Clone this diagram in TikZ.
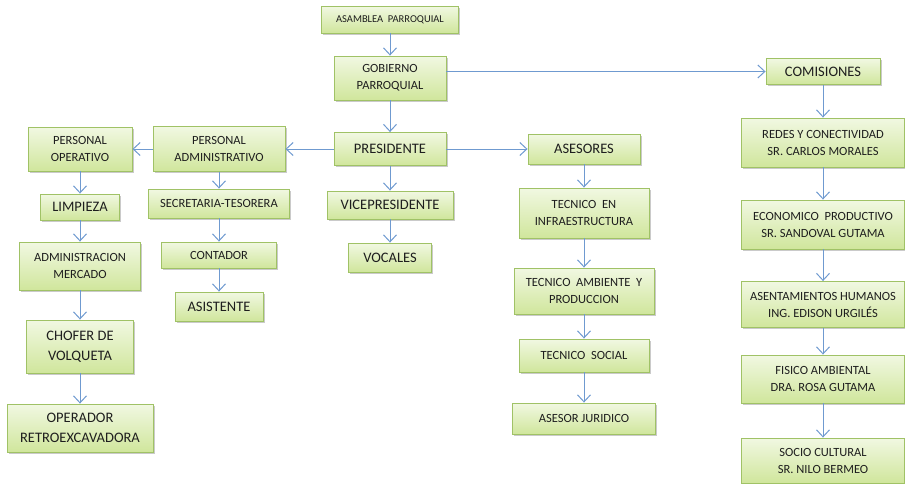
\documentclass[tikz,border=0pt]{standalone}
\usepackage{fontspec}
\setmainfont{Carlito}
\usetikzlibrary{positioning,shadows,arrows.meta}

\definecolor{boxtop}{HTML}{F1F8E2}
\definecolor{boxbot}{HTML}{D0E69C}
\definecolor{boxline}{HTML}{A0C266}
\definecolor{linkblue}{HTML}{6F9AD0}
\definecolor{txt}{HTML}{1E1E1E}

\tikzset{
  cargo/.style={draw=boxline,line width=0.9pt,top color=boxtop,bottom color=boxbot,
    text=txt,align=center,inner sep=2pt,
    drop shadow={shadow xshift=1.5pt,shadow yshift=-1.5pt,opacity=0.35,fill=black!60}},
  boxsize/.style 2 args={minimum width=#1pt,minimum height=#2pt},
  chico/.style={cargo,font=\fontsize{12.5}{17}\selectfont},
  grande/.style={cargo,font=\fontsize{14.5}{20}\selectfont},
  enlace/.style={draw=linkblue,line width=1pt}
}

\begin{document}
\begin{tikzpicture}[x=1pt,y=1pt,on grid,>={Straight Barb[length=7pt,width=13pt,line width=1pt]}]
	\useasboundingbox (0,0) rectangle (905,-483);
	\node[cargo,boxsize={137}{27},font=\fontsize{10.5}{12}\selectfont] (asamblea) at (390,-19.5) {ASAMBLEA\ \ PARROQUIAL};
	\node[chico,boxsize={112}{44}] [below=58.5 of asamblea] (gobierno) {GOBIERNO\\PARROQUIAL};
	\node[grande,boxsize={112}{33}] [below=71 of gobierno] (presidente) {PRESIDENTE};
	\node[grande,boxsize={126}{28}] [below=56 of presidente] (vice) {VICEPRESIDENTE};
	\node[grande,boxsize={83}{29}] [below=52.5 of vice] (vocales) {VOCALES};

	\node[chico,boxsize={132}{45}] [left=171 of presidente] (padmin) {PERSONAL\\ADMINISTRATIVO};
	\node[chico,boxsize={141}{29}] [below=54.5 of padmin] (secretaria) {SECRETARIA-TESORERA};
	\node[chico,boxsize={115}{26}] [below=51.5 of secretaria] (contador) {CONTADOR};
	\node[grande,boxsize={88}{29}] [below=51.5 of contador] (asistente) {ASISTENTE};

	\node[chico,boxsize={104}{44}] [left=139 of padmin] (poper) {PERSONAL\\OPERATIVO};
	\node[grande,boxsize={79}{26}] [below=58 of poper] (limpieza) {LIMPIEZA};
	\node[chico,boxsize={121}{48}] [below=59 of limpieza] (mercado) {ADMINISTRACION\\MERCADO};
	\node[grande,boxsize={107}{53}] [below=80.5 of mercado] (chofer) {CHOFER DE\\VOLQUETA};
	\node[grande,boxsize={146}{48}] [below=81.5 of chofer] (operador) {OPERADOR\\RETROEXCAVADORA};

	\node[grande,boxsize={112}{30}] [right=194 of presidente] (asesores) {ASESORES};
	\node[chico,boxsize={130}{50}] [below=64 of asesores] (infra) {TECNICO\ \ EN\\INFRAESTRUCTURA};
	\node[chico,boxsize={140}{46}] [below=78 of infra] (ambiente) {TECNICO\ \ AMBIENTE\ \ Y\\PRODUCCION};
	\node[chico,boxsize={130}{33}] [below=64.5 of ambiente] (social) {TECNICO\ \ SOCIAL};
	\node[chico,boxsize={143}{31}] [below=63 of social] (juridico) {ASESOR JURIDICO};

	\node[grande,boxsize={114}{26}] [above right=6.5 and 433 of gobierno] (comisiones) {COMISIONES};
	\node[chico,boxsize={163}{49}] [below=71 of comisiones] (redes) {REDES\ Y CONECTIVIDAD\\SR. CARLOS MORALES};
	\node[chico,boxsize={163}{49}] [below=82 of redes] (economico) {ECONOMICO\ \ PRODUCTIVO\\SR. SANDOVAL GUTAMA};
	\node[chico,boxsize={163}{46}] [below=80 of economico] (asentamientos) {ASENTAMIENTOS HUMANOS\\ING. EDISON URGILÉS};
	\node[chico,boxsize={163}{48}] [below=74.5 of asentamientos] (fisico) {FISICO AMBIENTAL\\DRA. ROSA GUTAMA};
	\node[chico,boxsize={163}{45}] [below=81.5 of fisico] (socio) {SOCIO CULTURAL\\SR. NILO BERMEO};

	\draw[->,enlace] (gobierno.east |- comisiones) -- (comisiones);
	\path[->,enlace]
		(asamblea) edge (gobierno)
		(gobierno) edge (presidente)
		(presidente) edge (vice)
		(vice) edge (vocales)
		(presidente) edge (padmin)
		(presidente) edge (asesores)
		(padmin) edge (poper)
		(padmin) edge (secretaria)
		(secretaria) edge (contador)
		(contador) edge (asistente)
		(poper) edge (limpieza)
		(limpieza) edge (mercado)
		(mercado) edge (chofer)
		(chofer) edge (operador)
		(asesores) edge (infra)
		(infra) edge (ambiente)
		(ambiente) edge (social)
		(social) edge (juridico)
		(comisiones) edge (redes)
		(redes) edge (economico)
		(economico) edge (asentamientos)
		(asentamientos) edge (fisico)
		(fisico) edge (socio);
\end{tikzpicture}
\end{document}
